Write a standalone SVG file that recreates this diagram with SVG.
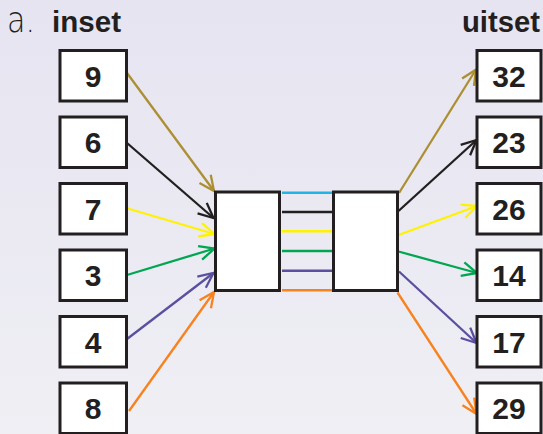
<svg xmlns="http://www.w3.org/2000/svg" width="543" height="434" viewBox="0 0 543 434">
  <defs>
    <linearGradient id="bg" x1="0" y1="0" x2="0" y2="1">
      <stop offset="0" stop-color="#e6e4f1"/>
      <stop offset="1" stop-color="#efeff4"/>
    </linearGradient>
    <marker id="m-gold" markerUnits="userSpaceOnUse" markerWidth="20" markerHeight="20" refX="0" refY="0" viewBox="-18 -10 20 20" orient="auto" overflow="visible">
      <path d="M-15,-7 L0,0 L-15,7" fill="none" stroke="#ad8f33" stroke-width="2.3"/>
    </marker>
    <marker id="m-black" markerUnits="userSpaceOnUse" markerWidth="20" markerHeight="20" refX="0" refY="0" viewBox="-18 -10 20 20" orient="auto" overflow="visible">
      <path d="M-15,-7 L0,0 L-15,7" fill="none" stroke="#231f20" stroke-width="2.3"/>
    </marker>
    <marker id="m-yellow" markerUnits="userSpaceOnUse" markerWidth="20" markerHeight="20" refX="0" refY="0" viewBox="-18 -10 20 20" orient="auto" overflow="visible">
      <path d="M-15,-7 L0,0 L-15,7" fill="none" stroke="#fff200" stroke-width="2.3"/>
    </marker>
    <marker id="m-green" markerUnits="userSpaceOnUse" markerWidth="20" markerHeight="20" refX="0" refY="0" viewBox="-18 -10 20 20" orient="auto" overflow="visible">
      <path d="M-15,-7 L0,0 L-15,7" fill="none" stroke="#00a651" stroke-width="2.3"/>
    </marker>
    <marker id="m-purple" markerUnits="userSpaceOnUse" markerWidth="20" markerHeight="20" refX="0" refY="0" viewBox="-18 -10 20 20" orient="auto" overflow="visible">
      <path d="M-15,-7 L0,0 L-15,7" fill="none" stroke="#5b4fa0" stroke-width="2.3"/>
    </marker>
    <marker id="m-orange" markerUnits="userSpaceOnUse" markerWidth="20" markerHeight="20" refX="0" refY="0" viewBox="-18 -10 20 20" orient="auto" overflow="visible">
      <path d="M-15,-7 L0,0 L-15,7" fill="none" stroke="#f7821e" stroke-width="2.3"/>
    </marker>
  </defs>
  <style>
    .box { fill: #ffffff; stroke: #231f20; stroke-width: 3; }
    .num { font-family: "Liberation Sans", Arial, sans-serif; font-weight: bold; font-size: 30px; fill: #231f20; text-anchor: middle; }
    .hdr { font-family: "Liberation Sans", Arial, sans-serif; font-weight: bold; font-size: 30px; fill: #231f20; }
    .lbl { font-family: "DejaVu Sans", "Liberation Sans", sans-serif; font-weight: 300; font-size: 36px; fill: #231f20; }
    .ln { fill: none; stroke-width: 2.3; }
    .h { fill: none; stroke-width: 2.6; }
  </style>
  <rect x="0" y="0" width="543" height="434" fill="url(#bg)"/>

  <text class="lbl" x="7" y="31.5" textLength="28" lengthAdjust="spacingAndGlyphs">a.</text>
  <text class="hdr" x="52" y="32" textLength="69" lengthAdjust="spacingAndGlyphs">inset</text>
  <text class="hdr" x="462" y="32" textLength="78" lengthAdjust="spacingAndGlyphs">uitset</text>

  <g id="connectors">
    <line class="ln" stroke="#ad8f33" x1="127" y1="73" x2="214" y2="191" marker-end="url(#m-gold)"/>
    <line class="ln" stroke="#231f20" x1="127" y1="143" x2="213.5" y2="218" marker-end="url(#m-black)"/>
    <line class="ln" stroke="#fff200" x1="126" y1="208" x2="214.5" y2="234" marker-end="url(#m-yellow)"/>
    <line class="ln" stroke="#00a651" x1="127" y1="275" x2="214.5" y2="248.5" marker-end="url(#m-green)"/>
    <line class="ln" stroke="#5b4fa0" x1="127" y1="339" x2="213.5" y2="273" marker-end="url(#m-purple)"/>
    <line class="ln" stroke="#f7821e" x1="129" y1="411" x2="214" y2="292" marker-end="url(#m-orange)"/>

    <line class="h" stroke="#1fb6e6" x1="282" y1="192.7" x2="332" y2="192.7"/>
    <line class="h" stroke="#231f20" x1="282" y1="212" x2="332" y2="212"/>
    <line class="h" stroke="#fff200" x1="282" y1="231.3" x2="332" y2="231.3"/>
    <line class="h" stroke="#00a651" x1="282" y1="251" x2="332" y2="251"/>
    <line class="h" stroke="#5b4fa0" x1="282" y1="270.7" x2="332" y2="270.7"/>
    <line class="h" stroke="#f7821e" x1="282" y1="290.3" x2="332" y2="290.3"/>

    <line class="ln" stroke="#ad8f33" x1="399" y1="193" x2="476" y2="69.5" marker-end="url(#m-gold)"/>
    <line class="ln" stroke="#231f20" x1="398.5" y1="211" x2="476.5" y2="140" marker-end="url(#m-black)"/>
    <line class="ln" stroke="#fff200" x1="398.5" y1="235" x2="477" y2="206" marker-end="url(#m-yellow)"/>
    <line class="ln" stroke="#00a651" x1="398.5" y1="251.5" x2="477" y2="273" marker-end="url(#m-green)"/>
    <line class="ln" stroke="#5b4fa0" x1="399" y1="271.5" x2="476.5" y2="343" marker-end="url(#m-purple)"/>
    <line class="ln" stroke="#f7821e" x1="397.5" y1="292.5" x2="476.5" y2="414" marker-end="url(#m-orange)"/>
  </g>

  <g id="center-left"><rect class="box" x="215.5" y="192" width="64" height="98.5"/></g>
  <g id="center-right"><rect class="box" x="333.5" y="192" width="64" height="98.5"/></g>

  <g id="in-9"><rect class="box" x="60" y="50.5" width="66.5" height="50.5"/><text class="num" x="93" y="86.5">9</text></g>
  <g id="in-6"><rect class="box" x="60" y="117" width="66.5" height="50.5"/><text class="num" x="93" y="153">6</text></g>
  <g id="in-7"><rect class="box" x="60" y="183.5" width="66.5" height="50.5"/><text class="num" x="93" y="219.5">7</text></g>
  <g id="in-3"><rect class="box" x="60" y="250" width="66.5" height="50.5"/><text class="num" x="93" y="286">3</text></g>
  <g id="in-4"><rect class="box" x="60" y="316.5" width="66.5" height="50.5"/><text class="num" x="93" y="352.5">4</text></g>
  <g id="in-8"><rect class="box" x="60" y="383" width="66.5" height="50.5"/><text class="num" x="93" y="419">8</text></g>

  <g id="out-32"><rect class="box" x="477" y="50.5" width="64" height="50.5"/><text class="num" x="509" y="86.5">32</text></g>
  <g id="out-23"><rect class="box" x="477" y="117" width="64" height="50.5"/><text class="num" x="509" y="153">23</text></g>
  <g id="out-26"><rect class="box" x="477" y="183.5" width="64" height="50.5"/><text class="num" x="509" y="219.5">26</text></g>
  <g id="out-14"><rect class="box" x="477" y="250" width="64" height="50.5"/><text class="num" x="509" y="286">14</text></g>
  <g id="out-17"><rect class="box" x="477" y="316.5" width="64" height="50.5"/><text class="num" x="509" y="352.5">17</text></g>
  <g id="out-29"><rect class="box" x="477" y="383" width="64" height="50.5"/><text class="num" x="509" y="419">29</text></g>
</svg>
